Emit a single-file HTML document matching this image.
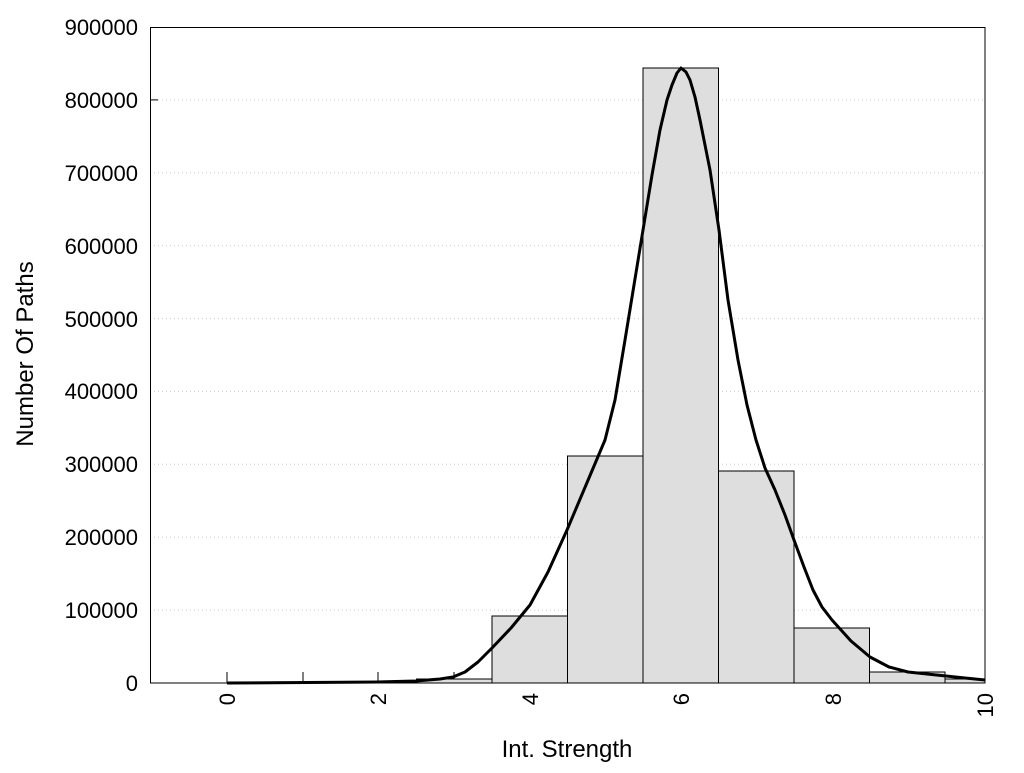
<!DOCTYPE html>
<html><head><meta charset="utf-8"><style>
html,body{margin:0;padding:0;background:#fff;}
svg text{font-family:"Liberation Sans",Arial,sans-serif;fill:#000;}
</style></head><body>
<svg width="1024" height="768" xmlns="http://www.w3.org/2000/svg">
<g stroke="#ccc" stroke-width="1" stroke-dasharray="1,3">
<line x1="150" x2="985" y1="610.1" y2="610.1"/>
<line x1="150" x2="985" y1="537.2" y2="537.2"/>
<line x1="150" x2="985" y1="464.3" y2="464.3"/>
<line x1="150" x2="985" y1="391.4" y2="391.4"/>
<line x1="150" x2="985" y1="318.6" y2="318.6"/>
<line x1="150" x2="985" y1="245.7" y2="245.7"/>
<line x1="150" x2="985" y1="172.8" y2="172.8"/>
<line x1="150" x2="985" y1="99.9" y2="99.9"/>
</g>
<g stroke="#000" stroke-width="1">
<line x1="227" x2="227" y1="683" y2="672"/><line x1="303" x2="303" y1="683" y2="672"/>
<line x1="378" x2="378" y1="683" y2="672"/><line x1="454" x2="454" y1="683" y2="672"/>
<line x1="150" x2="158" y1="99.9" y2="99.9"/>
</g>
<g fill="#dedede" stroke="#000" stroke-width="1">
<rect x="416.5" y="679" width="75.5" height="4"/>
<rect x="492" y="616" width="75.5" height="67"/>
<rect x="567.5" y="456" width="75.5" height="227"/>
<rect x="643" y="68" width="75.5" height="615"/>
<rect x="718.5" y="471" width="75.5" height="212"/>
<rect x="794" y="628" width="75.5" height="55"/>
<rect x="869.5" y="672" width="75.5" height="11"/>
<rect x="945" y="679" width="40" height="4"/>
</g>
<polyline fill="none" stroke="#000" stroke-width="3" stroke-linejoin="round" points="227,683 378,682 416,681 440,679 453,677 465,672 478,662 492,648 511,628 530,605 548,572 567,530 586,485 605,440 615,400 625,340 634,285 643,230 652,175 660,130 667,100 672,85 677,73 681,68 686,72 690,80 695,97 700,120 710,170 719,230 728,300 738,360 747,405 756,440 765,468 775,490 785,515 794,540 804,567 813,590 822,607 832,620 851,641 870,657 889,667 908,672 927,674 946,676 965,678 985,680"/>
<rect x="150.5" y="27.5" width="834.5" height="655.5" fill="none" stroke="#000" stroke-width="1"/>
<g font-size="22" text-anchor="end">
<text x="138" y="691">0</text>
<text x="138" y="618">100000</text>
<text x="138" y="545">200000</text>
<text x="138" y="472">300000</text>
<text x="138" y="399">400000</text>
<text x="138" y="327">500000</text>
<text x="138" y="254">600000</text>
<text x="138" y="181">700000</text>
<text x="138" y="108">800000</text>
<text x="138" y="35">900000</text>
</g>
<g font-size="22" text-anchor="end">
<text transform="translate(235,693) rotate(-90)">0</text>
<text transform="translate(386,693) rotate(-90)">2</text>
<text transform="translate(538,693) rotate(-90)">4</text>
<text transform="translate(689,693) rotate(-90)">6</text>
<text transform="translate(841,693) rotate(-90)">8</text>
<text transform="translate(993,693) rotate(-90)">10</text>
</g>
<text x="567" y="757" font-size="24" text-anchor="middle">Int. Strength</text>
<text transform="translate(33,354) rotate(-90)" font-size="24" text-anchor="middle">Number Of Paths</text>
</svg>
</body></html>
